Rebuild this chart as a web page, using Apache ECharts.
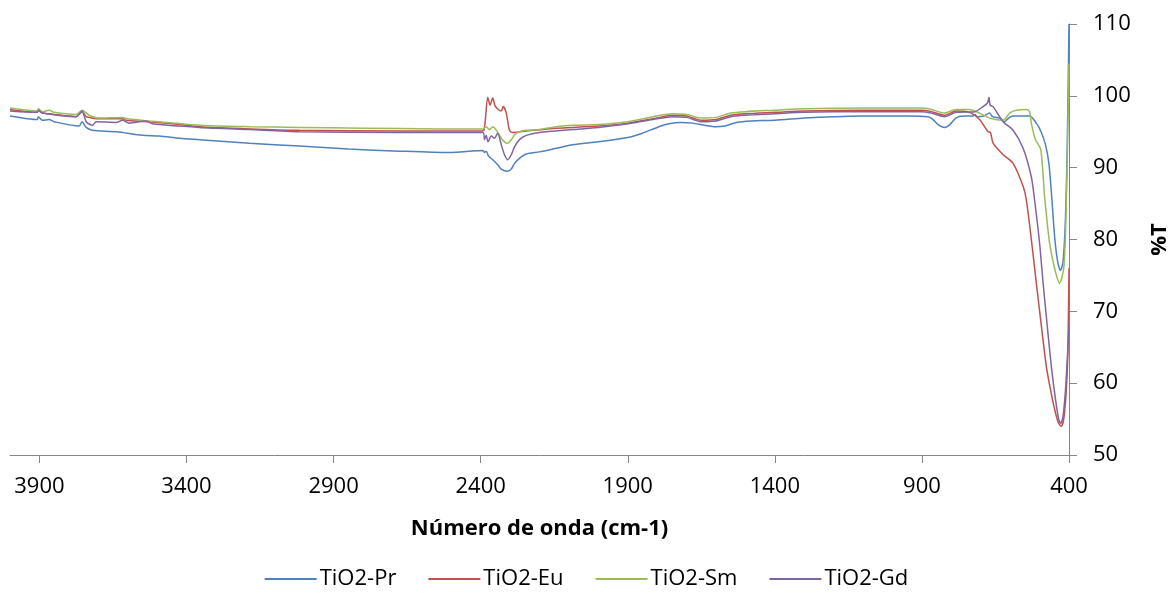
<!DOCTYPE html>
<html>
<head>
<meta charset="utf-8">
<script src="https://cdn.jsdelivr.net/npm/echarts@6/dist/echarts.min.js"></script>
<style>html,body{margin:0;padding:0;background:#fff}#c{width:1173px;height:596px}</style>
</head>
<body>
<div id="c"></div>
<script>
// Series names
const seriesNames = ['TiO2-Pr', 'TiO2-Eu', 'TiO2-Sm', 'TiO2-Gd'];
// X tick labels (wavenumber, cm-1)
const xTicks = [400, 900, 1400, 1900, 2400, 2900, 3400, 3900];
// Y ticks (%T)
const yTicks = [50, 60, 70, 80, 90, 100, 110];

// [wavenumber, %T]
const pr = [[4000,97.2],[3907,96.7],[3904,97.1],[3890,96.6],[3867,96.7],[3850,96.4],[3765,95.8],[3755,96.4],[3741,95.6],[3720,95.2],[3639,95.0],[3550,94.5],[3492,94.4],[3424,94.1],[3356,93.9],[3186,93.4],[3016,93.0],[2850,92.6],[2676,92.3],[2506,92.1],[2392,92.4],[2387,92.1],[2381,92.3],[2373,91.6],[2359,91.1],[2342,90.4],[2330,89.8],[2308,89.5],[2296,89.8],[2285,90.6],[2268,91.3],[2245,91.9],[2200,92.2],[2143,92.7],[2087,93.2],[2000,93.6],[1900,94.2],[1850,94.8],[1800,95.6],[1760,96.1],[1720,96.3],[1680,96.2],[1640,95.9],[1600,95.7],[1570,95.8],[1530,96.3],[1480,96.5],[1400,96.6],[1300,96.9],[1200,97.1],[1100,97.2],[950,97.2],[880,97.1],[865,96.8],[845,96.0],[823,95.6],[805,96.0],[785,96.9],[760,97.2],[725,97.2],[720,97.4],[712,97.1],[690,97.2],[670,97.6],[660,97.1],[636,96.9],[619,96.4],[605,96.9],[591,97.2],[534,97.2],[511,96.2],[495,95.0],[480,93.2],[468,90.5],[458,85.5],[448,80.0],[438,76.8],[429,75.7],[420,77.0],[412,83.0],[406,93.0],[400,110]];

const eu = [[4000,98.1],[3907,97.7],[3904,98.0],[3890,97.6],[3867,97.5],[3850,97.4],[3775,97.1],[3755,97.8],[3741,97.1],[3731,97.0],[3707,96.8],[3618,96.8],[3605,96.6],[3527,96.4],[3424,96.0],[3356,95.7],[3186,95.4],[3016,95.2],[2676,95.1],[2404,95.1],[2389,95.2],[2376,99.8],[2368,98.7],[2359,99.7],[2351,98.6],[2340,98.1],[2330,97.9],[2323,98.5],[2313,97.6],[2302,95.2],[2293,94.9],[2245,95.1],[2143,95.5],[2087,95.6],[2000,95.8],[1900,96.2],[1800,96.9],[1750,97.3],[1700,97.2],[1650,96.6],[1600,96.7],[1550,97.3],[1500,97.5],[1400,97.7],[1300,97.9],[1100,98.0],[900,98.0],[868,97.8],[823,97.3],[783,97.9],[738,97.7],[704,96.7],[675,95.0],[667,94.9],[658,93.4],[624,91.8],[590,90.6],[556,87.4],[545,85.5],[528,80.0],[511,73.9],[494,68.0],[477,62.3],[460,58.5],[445,55.7],[435,54.4],[426,54.0],[418,55.0],[410,58.5],[404,64.0],[400,76]];

const sm = [[4000,98.3],[3907,97.9],[3904,98.2],[3890,97.8],[3866,98.0],[3850,97.7],[3775,97.4],[3755,98.0],[3731,97.3],[3697,96.9],[3618,97.0],[3600,96.8],[3527,96.5],[3356,95.9],[3186,95.7],[3016,95.6],[2800,95.5],[2540,95.4],[2392,95.4],[2381,95.7],[2370,95.3],[2359,95.7],[2348,95.3],[2330,94.1],[2319,93.6],[2308,93.4],[2296,93.9],[2279,94.8],[2245,95.2],[2200,95.3],[2143,95.7],[2087,95.9],[2000,96.0],[1900,96.4],[1800,97.2],[1750,97.5],[1700,97.4],[1650,96.9],[1600,97.0],[1550,97.6],[1500,97.8],[1400,98.0],[1300,98.2],[1100,98.3],[900,98.3],[868,98.1],[823,97.6],[783,98.1],[740,98.1],[704,97.6],[670,96.9],[624,96.6],[602,97.6],[579,98.0],[545,98.1],[534,97.8],[528,96.2],[515,94.0],[496,92.5],[483,86.0],[466,79.5],[449,76.0],[432,73.9],[418,76.0],[411,82.0],[404,95.0],[400,104.5]];

const gd = [[4000,97.9],[3907,97.7],[3904,98.0],[3890,97.6],[3775,97.1],[3755,97.9],[3741,96.4],[3720,95.9],[3707,96.4],[3639,96.3],[3618,96.6],[3595,96.2],[3537,96.5],[3516,96.1],[3356,95.6],[3186,95.3],[3016,95.0],[2676,94.9],[2392,94.9],[2387,93.9],[2381,94.5],[2375,93.6],[2364,94.4],[2353,94.1],[2342,94.8],[2330,93.2],[2319,91.8],[2308,91.1],[2296,91.8],[2285,92.9],[2268,93.9],[2245,94.5],[2200,94.9],[2087,95.3],[2000,95.6],[1900,96.1],[1800,96.8],[1750,97.1],[1700,97.0],[1650,96.4],[1600,96.5],[1550,97.1],[1500,97.3],[1400,97.5],[1300,97.7],[1100,97.8],[900,97.8],[868,97.6],[823,97.1],[783,97.7],[720,97.8],[692,98.5],[677,99.0],[672,99.8],[668,98.7],[658,98.5],[624,96.4],[590,95.2],[556,92.7],[528,88.7],[517,85.5],[500,79.5],[488,73.9],[474,68.0],[460,62.3],[445,57.5],[435,55.0],[428,54.4],[420,55.5],[412,59.0],[405,64.0],[400,68]];

const colors = ['#4F81BD', '#C0504D', '#9BBB59', '#8064A2'];
const seriesData = [pr, eu, sm, gd];

const FONT = 'Open Sans';
const chart = echarts.init(document.getElementById('c'), null, {renderer: 'canvas'});
chart.setOption({
  animation: false,
  backgroundColor: '#fff',
  color: colors,
  textStyle: {fontFamily: FONT},
  grid: {left: 10, right: 104, top: 24, bottom: 141, containLabel: false, outerBoundsMode: 'none'},
  legend: {
    data: seriesNames,
    left: 'center',
    top: 563,
    itemWidth: 52,
    itemHeight: 2,
    itemGap: 32,
    icon: 'rect',
    textStyle: {fontFamily: FONT, fontSize: 22, color: '#000', padding: [0,0,0,-2]}
  },
  xAxis: {
    type: 'value',
    inverse: true,
    min: 400,
    max: 4000,
    interval: 500,
    name: 'Número de onda (cm-1)',
    nameLocation: 'middle',
    nameGap: 63,
    nameTextStyle: {fontFamily: FONT, fontSize: 22, fontWeight: 'bold', color: '#000'},
    axisLine: {show: true, onZero: false, lineStyle: {color: '#868686', width: 1}},
    axisTick: {show: true, length: 8, lineStyle: {color: '#868686'}, customValues: xTicks},
    axisLabel: {fontFamily: FONT, fontSize: 22, color: '#000', margin: 21, customValues: xTicks, formatter: v => String(v)},
    splitLine: {show: false}
  },
  yAxis: {
    type: 'value',
    position: 'right',
    min: 50,
    max: 110,
    interval: 10,
    name: '%T',
    nameLocation: 'middle',
    nameRotate: 90,
    nameGap: 80,
    nameTextStyle: {fontFamily: FONT, fontSize: 22, fontWeight: 'bold', color: '#000'},
    axisLine: {show: true, lineStyle: {color: '#868686', width: 1}},
    axisTick: {show: true, length: 8, lineStyle: {color: '#868686'}},
    axisLabel: {fontFamily: FONT, fontSize: 22, color: '#000', margin: 24, formatter: v => String(v)},
    splitLine: {show: false}
  },
  series: seriesNames.map((n, i) => ({
    name: n,
    type: 'line',
    data: seriesData[i],
    showSymbol: false,
    symbol: 'none',
    smooth: 0.25,
    clip: true,
    lineStyle: {width: 1.5, color: colors[i]},
    itemStyle: {color: colors[i]}
  }))
});
</script>
</body>
</html>
